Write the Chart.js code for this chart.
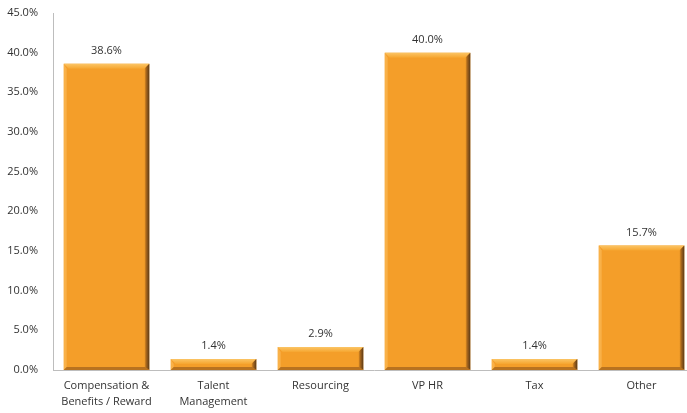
<!DOCTYPE html>
<html>
<head>
<meta charset="utf-8">
<script src="https://cdn.jsdelivr.net/npm/chart.js@4.4.1/dist/chart.umd.min.js"></script>
<style>
  html, body { margin: 0; padding: 0; background: #fff; overflow: hidden; }
  #wrap { width: 696px; height: 413px; }
</style>
</head>
<body>
<div id="wrap"><canvas id="myChart" width="696" height="413"></canvas></div>
<script>
const categorias = [
  ['Compensation &', 'Benefits / Reward'],
  ['Talent', 'Management'],
  'Resourcing',
  'VP HR',
  'Tax',
  'Other'
];
const porcentajes = [38.6, 1.4, 2.9, 40.0, 1.4, 15.7];
const ticksY = [0, 5, 10, 15, 20, 25, 30, 35, 40, 45];

const fuente = "'Open Sans', 'Noto Sans', sans-serif";

// bevelled edges on each bar
const bisel = {
  id: 'bisel',
  afterDatasetsDraw(chart) {
    const c = chart.ctx;
    chart.getDatasetMeta(0).data.forEach(bar => {
      const l = bar.x - bar.width / 2, r = bar.x + bar.width / 2;
      const t = bar.y, b = bar.base;
      const h = b - t;
      const e = Math.min(5, h / 2);
      c.save();
      // top highlight
      let g = c.createLinearGradient(0, t, 0, t + e);
      g.addColorStop(0, '#fbc566');
      g.addColorStop(1, '#f6a630');
      c.fillStyle = g;
      c.beginPath();
      c.moveTo(l, t); c.lineTo(r, t); c.lineTo(r - e, t + e); c.lineTo(l + e, t + e);
      c.closePath(); c.fill();
      // left highlight
      c.fillStyle = 'rgba(255,200,110,0.45)';
      c.beginPath();
      c.moveTo(l, t); c.lineTo(l + 3, t + e); c.lineTo(l + 3, b - 2); c.lineTo(l, b);
      c.closePath(); c.fill();
      // right shadow
      g = c.createLinearGradient(r - 5, 0, r, 0);
      g.addColorStop(0, 'rgba(150,90,20,0.0)');
      g.addColorStop(0.4, '#a5651c');
      g.addColorStop(1, '#5a3a18');
      c.fillStyle = g;
      c.beginPath();
      c.moveTo(r, t); c.lineTo(r, b); c.lineTo(r - 5, b - 3); c.lineTo(r - 5, t + e);
      c.closePath(); c.fill();
      // bottom shadow
      c.fillStyle = '#b8721f';
      c.beginPath();
      c.moveTo(l, b); c.lineTo(r, b); c.lineTo(r - 4, b - 3); c.lineTo(l + 3, b - 3);
      c.closePath(); c.fill();
      c.restore();
    });
  }
};

// value labels above the bars
const etiquetas = {
  id: 'etiquetas',
  afterDatasetsDraw(chart) {
    const c = chart.ctx;
    const ds = chart.data.datasets[0];
    c.save();
    c.font = '11px ' + fuente;
    c.fillStyle = '#333333';
    c.textAlign = 'center';
    c.textBaseline = 'middle';
    chart.getDatasetMeta(0).data.forEach((bar, i) => {
      c.fillText(ds.data[i].toFixed(1) + '%', bar.x, bar.y - 13);
    });
    c.restore();
  }
};

const ctx = document.querySelector('#myChart');
const chart = new Chart(ctx, {
  type: 'bar',
  data: {
    labels: categorias,
    datasets: [{
      data: porcentajes,
      backgroundColor: '#f49e29',
      borderWidth: 0,
      categoryPercentage: 1,
      barPercentage: 0.8
    }]
  },
  options: {
    responsive: false,
    animation: false,
    layout: { padding: { top: 13, right: 1, left: 0, bottom: 0 } },
    plugins: {
      legend: { display: false },
      tooltip: { enabled: false }
    },
    scales: {
      x: {
        grid: { display: false, drawTicks: false },
        border: { color: '#bdbdbd', width: 1 },
        ticks: {
          color: '#333333',
          font: { family: fuente, size: 11, lineHeight: 1.45 },
          padding: 8,
          maxRotation: 0,
          autoSkip: false
        },
        afterFit(scale) { scale.height = 43; scale.paddingLeft = 0; scale.paddingRight = 0; }
      },
      y: {
        min: 0,
        max: 45,
        afterBuildTicks(scale) { scale.ticks = ticksY.map(v => ({ value: v })); },
        grid: { display: false, drawTicks: false },
        border: { color: '#bdbdbd', width: 1 },
        ticks: {
          color: '#333333',
          font: { family: fuente, size: 11 },
          padding: 15,
          callback: v => v.toFixed(1) + '%'
        },
        afterFit(scale) { scale.width = 53; scale.paddingTop = 0; scale.paddingBottom = 0; }
      }
    }
  },
  plugins: [bisel, etiquetas]
});
</script>
</body>
</html>
